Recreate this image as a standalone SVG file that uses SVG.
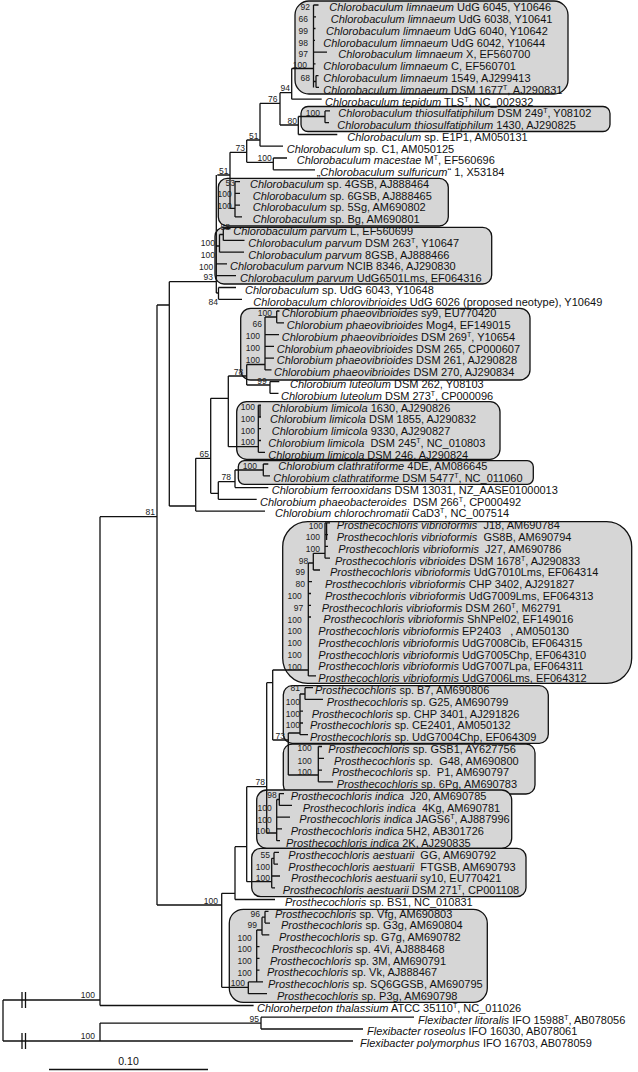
<svg xmlns="http://www.w3.org/2000/svg" width="638" height="1072" viewBox="0 0 638 1072">
<style>
.t{font-family:"Liberation Sans",Arial,Helvetica,sans-serif;font-size:11px;fill:#111}
.i{font-style:italic}
.s{font-size:7px}
.b{font-family:"Liberation Sans",Arial,Helvetica,sans-serif;font-size:8.5px;fill:#222;text-anchor:end}
.e{fill:none;stroke:#111;stroke-width:1.3}
.c{fill:#d6d6d6;stroke:#111;stroke-width:1.3}
</style>
<rect width="638" height="1072" fill="#fff"/>
<g id="clades">
<rect id="box-limnaeum" class="c" x="295" y="1" width="273" height="93" rx="14"/>
<rect id="box-thiosulfatiphilum" class="c" x="301" y="106.5" width="309" height="25" rx="7"/>
<rect id="box-chlorobaculum-sp" class="c" x="218.3" y="178.3" width="230" height="47.7" rx="9"/>
<rect id="box-parvum" class="c" x="215" y="227.3" width="276.7" height="56.7" rx="9"/>
<rect id="box-phaeovibrioides" class="c" x="240.7" y="308.3" width="289.3" height="71.7" rx="10"/>
<rect id="box-limicola" class="c" x="236.7" y="401.7" width="263.3" height="57.6" rx="10"/>
<rect id="box-clathratiforme" class="c" x="238.3" y="460.7" width="295" height="23.6" rx="6"/>
<rect id="box-vibrioformis" class="c" x="282.7" y="521.7" width="349" height="161.6" rx="25"/>
<rect id="box-b7" class="c" x="283.3" y="685.7" width="265" height="57.6" rx="9"/>
<rect id="box-gsb1" class="c" x="283.3" y="744" width="251.7" height="50" rx="9"/>
<rect id="box-indica" class="c" x="256.7" y="790" width="255" height="58.3" rx="10"/>
<rect id="box-aestuarii" class="c" x="251.7" y="848.3" width="274.3" height="48.4" rx="9"/>
<rect id="box-p3g" class="c" x="229.3" y="909.3" width="258" height="93" rx="14"/>
</g>
<g id="edges" class="e">
<path d="M313.5,5V87.4M313.5,5H318.5M313.5,16.8H316M313.5,28.5H315.5M313.5,40.3H315M313.5,52.1H327M313.5,63.9H315.5M313.5,81.5H316M316,75.6V87.4M316,75.6H318.5M316,87.4H319M291.7,68.5H313.5"/>
<path d="M291.7,68.5V99.2M291.7,99.2H321.7M280,92.7H291.7M280,92.7V125M260,103.3H280M280,125H298.3M298.3,116.5V134.5M298.3,134.5H337.3M298.3,116.5H325M325,110.9V122.7M325,110.9H330M325,122.7H329"/>
<path d="M260,103.3V146.2M260,146.2H283M246.7,140H260M246.7,140V162.3M246.7,162.3H273.3M273.3,158V169.8M273.3,158H287M273.3,169.8H315M230,152.3H246.7"/>
<path d="M230,152.3V208.3M217.3,175H230M230,208.3H235M235,181.6V216.9M235,181.6H240M235,193.3H240M235,205.1H240M235,216.9H242"/>
<path d="M216.3,175V293M216.3,275.7H236M216.3,263.9H227M216.3,246H219.5M219.5,234.5V252.2M219.5,252.2H244M219.5,234.5H223.3M223.3,228.6V240.4M223.3,228.6H230.5M223.3,240.4H244.5M169.3,281.7H216.3M216.3,293H218.5M218.5,287.5V299.3M218.5,287.5H236M218.5,299.3H242"/>
<path d="M169.3,281.7V506M169.3,506H195.7M157,305V905M157,305H169.3M100,516.7H157"/>
<path d="M195.7,458.3V511.1M195.7,511.1H265M195.7,458.3H210.7M210.7,398.3V493.3M210.7,398.3H228.3M210.7,493.3H218.3M228.3,376V446.7M228.3,376H246.7M228.3,446.7H258.3"/>
<path d="M246.7,364.5V385M246.7,364.5H265M246.7,385H270M265,317V369.9M265,317H276.7M276.7,311V322.8M276.7,311H279.5M276.7,322.8H284M265,334.6H279M265,346.3H274M265,358.1H274M265,369.9H271.5M270,381.6V393.4M270,381.6H279.3M270,393.4H278.5"/>
<path d="M258.3,405.2V452.3M260,405.2V417M258.3,405.2H261M258.3,417H261M258.3,428.7H261M258.3,440.5H261M258.3,452.3H265"/>
<path d="M218.3,481.7V499.3M218.3,499.3H256.7M218.3,481.7H235M235,470V487.6M235,487.6H268.3M235,470H263.3M263.3,464V475.8M263.3,464H268.3M263.3,475.8H270"/>
<path d="M157,905H221.7M221.7,893.3V987.3M221.7,893.3H235M235,846.7V899.5M235,899.5H275M235,846.7H246.7M246.7,786.7V881.7M246.7,786.7H266.7M246.7,881.7H271.7"/>
<path d="M271.7,858.3V887.8M271.7,876H280M271.7,887.8H275M271.7,858.3H274M274,852.4V864.2M274,852.4H279M274,864.2H278"/>
<path d="M266.7,682.7V833M266.7,682.7H272.7M266.7,833H276.7M276.7,799.5V840.7M276.7,799.5H279.3M279.3,793.6V805.4M279.3,793.6H284M279.3,805.4H292M276.7,817.1H290M276.7,828.9H282M276.7,840.7H280"/>
<path d="M272.7,670V740M272.7,670H308.3M272.7,740H288.3M308.3,563V675.9M308.3,563H313.3M313.3,553.3V570M313.3,570H320M313.3,553.3H325M325,522.9V558.2M326.6,522.9V540M325,522.9H330M325,534.7H328M325,546.4H328M325,558.2H330M308.3,581.7H312M308.3,593.5H311M308.3,605.3H311M308.3,617H311M308.3,675.9H316"/>
<path d="M288.3,733V775M288.3,733H300M288.3,775H318.3M300,694V734.7M300,694H305M305,687.7V699.4M305,687.7H313M305,699.4H323M300,711.2H303M300,723H303M300,734.7H308M318.3,746.5V781.8M318.3,746.5H322M318.3,758.3H324M318.3,770.1H322M318.3,781.8H333"/>
<path d="M221.7,987.3H248.3M248.3,981.9V993.7M248.3,993.7H267M248.3,981.9H256.7M256.7,930V981.9M256.7,981.9H263M256.7,946.6H259.5M256.7,958.4H259.5M256.7,970.1H259.5M256.7,930H262M262,917.2V934.8M262,934.8H269.3M262,917.2H265M265,911.3V923.1M265,911.3H268.5M265,923.1H270"/>
<path d="M100,516.7V1005.5M100,1005.5H253.6M3,1000H100M3,1000V1041M3,1041H353M100,1041V1023.1M100,1023.1H261M261,1017.2V1029M261,1017.2H414M261,1029H363"/>
<path d="M22,992V1008M25.5,992V1008M22,1033V1049M25.5,1033V1049"/>
</g>
<g id="support">
<text class="b" x="310" y="10.3">92</text>
<text class="b" x="308" y="22">66</text>
<text class="b" x="308" y="33.8">99</text>
<text class="b" x="308" y="45.5">98</text>
<text class="b" x="308" y="57.3">97</text>
<text class="b" x="307" y="68">100</text>
<text class="b" x="310" y="80.5">68</text>
<text class="b" x="290" y="91">94</text>
<text class="b" x="277.5" y="102">76</text>
<text class="b" x="297" y="123.5">80</text>
<text class="b" x="320" y="115.5">100</text>
<text class="b" x="258.5" y="138.5">51</text>
<text class="b" x="245" y="150.8">73</text>
<text class="b" x="271.7" y="161">100</text>
<text class="b" x="228.5" y="173.5">51</text>
<text class="b" x="235" y="185.5">53</text>
<text class="b" x="231.7" y="197">100</text>
<text class="b" x="231.7" y="209">100</text>
<text class="b" x="230" y="229.5">58</text>
<text class="b" x="215" y="245.5">100</text>
<text class="b" x="215" y="257.5">100</text>
<text class="b" x="213.3" y="269.5">100</text>
<text class="b" x="213" y="280">93</text>
<text class="b" x="218" y="304.5">84</text>
<text class="b" x="272" y="315.5">100</text>
<text class="b" x="262" y="327">66</text>
<text class="b" x="260" y="338.5">100</text>
<text class="b" x="260" y="350.5">100</text>
<text class="b" x="260" y="362.5">100</text>
<text class="b" x="243.3" y="374.5">78</text>
<text class="b" x="266.7" y="383.8">99</text>
<text class="b" x="255" y="410">100</text>
<text class="b" x="255" y="421.8">100</text>
<text class="b" x="255" y="433.5">100</text>
<text class="b" x="255" y="445.3">100</text>
<text class="b" x="209" y="456.5">65</text>
<text class="b" x="257" y="468.5">100</text>
<text class="b" x="231" y="480">78</text>
<text class="b" x="155" y="515">81</text>
<text class="b" x="323" y="528.5">100</text>
<text class="b" x="320" y="540">100</text>
<text class="b" x="320" y="551.5">100</text>
<text class="b" x="308.3" y="563.5">98</text>
<text class="b" x="305" y="575">99</text>
<text class="b" x="305" y="587">80</text>
<text class="b" x="301.7" y="599">100</text>
<text class="b" x="303.3" y="611">97</text>
<text class="b" x="301.7" y="622.5">100</text>
<text class="b" x="301.7" y="634">100</text>
<text class="b" x="301.7" y="646">100</text>
<text class="b" x="301.7" y="658">100</text>
<text class="b" x="301.7" y="669.5">100</text>
<text class="b" x="300" y="691">81</text>
<text class="b" x="300" y="704.5">100</text>
<text class="b" x="300" y="716.5">100</text>
<text class="b" x="300" y="728">100</text>
<text class="b" x="285" y="738.5">73</text>
<text class="b" x="311.7" y="751.3">100</text>
<text class="b" x="311.7" y="764">100</text>
<text class="b" x="311.7" y="774.5">100</text>
<text class="b" x="265" y="785">78</text>
<text class="b" x="276.7" y="798">98</text>
<text class="b" x="271.7" y="810.7">100</text>
<text class="b" x="271.7" y="823">100</text>
<text class="b" x="270" y="834">100</text>
<text class="b" x="270" y="858">55</text>
<text class="b" x="270" y="869.7">100</text>
<text class="b" x="270" y="880.5">100</text>
<text class="b" x="218" y="903.5">100</text>
<text class="b" x="260" y="917.3">96</text>
<text class="b" x="257" y="928.3">99</text>
<text class="b" x="251.7" y="941.3">100</text>
<text class="b" x="251.7" y="952.3">100</text>
<text class="b" x="251.7" y="964">100</text>
<text class="b" x="251.7" y="975.5">100</text>
<text class="b" x="245" y="986">100</text>
<text class="b" x="95" y="998">100</text>
<text class="b" x="259" y="1021.5">95</text>
<text class="b" x="95" y="1039">100</text>
</g>
<g id="n01"><text class="t" x="329.3" y="11.3"><tspan class="i">Chlorobaculum limnaeum</tspan> UdG 6045, Y10646</text></g>
<g id="n02"><text class="t" x="330.7" y="23.1"><tspan class="i">Chlorobaculum limnaeum</tspan> UdG 6038, Y10641</text></g>
<g id="n03"><text class="t" x="326" y="34.8"><tspan class="i">Chlorobaculum limnaeum</tspan> UdG 6040, Y10642</text></g>
<g id="n04"><text class="t" x="323.3" y="46.6"><tspan class="i">Chlorobaculum limnaeum</tspan> UdG 6042, Y10644</text></g>
<g id="n05"><text class="t" x="338.3" y="58.4"><tspan class="i">Chlorobaculum limnaeum</tspan> X, EF560700</text></g>
<g id="n06"><text class="t" x="323.3" y="70.2"><tspan class="i">Chlorobaculum limnaeum</tspan> C, EF560701</text></g>
<g id="n07"><text class="t" x="323.3" y="81.9"><tspan class="i">Chlorobaculum limnaeum</tspan> 1549, AJ299413</text></g>
<g id="n08"><text class="t" x="323.3" y="93.7"><tspan class="i">Chlorobaculum limnaeum</tspan> DSM 1677<tspan class="s" dy="-4">T</tspan><tspan dy="4">, AJ290831</tspan></text></g>
<g id="n09"><text class="t" x="325" y="105.5"><tspan class="i">Chlorobaculum tepidum</tspan> TLS<tspan class="s" dy="-4">T</tspan><tspan dy="4">, NC_002932</tspan></text></g>
<g id="n10"><text class="t" x="338.3" y="117.2"><tspan class="i">Chlorobaculum thiosulfatiphilum</tspan> DSM 249<tspan class="s" dy="-4">T</tspan><tspan dy="4">, Y08102</tspan></text></g>
<g id="n11"><text class="t" x="337.3" y="129"><tspan class="i">Chlorobaculum thiosulfatiphilum</tspan> 1430, AJ290825</text></g>
<g id="n12"><text class="t" x="347.3" y="140.8"><tspan class="i">Chlorobaculum</tspan> sp. E1P1, AM050131</text></g>
<g id="n13"><text class="t" x="286.7" y="152.5"><tspan class="i">Chlorobaculum</tspan> sp. C1, AM050125</text></g>
<g id="n14"><text class="t" x="296.7" y="164.3"><tspan class="i">Chlorobaculum macestae</tspan> M<tspan class="s" dy="-4">T</tspan><tspan dy="4">, EF560696</tspan></text></g>
<g id="n15"><text class="t" x="316.7" y="176.1">„<tspan class="i">Chlorobaculum sulfuricum</tspan>“ 1, X53184</text></g>
<g id="n16"><text class="t" x="250" y="187.9"><tspan class="i">Chlorobaculum</tspan> sp. 4GSB, AJ888464</text></g>
<g id="n17"><text class="t" x="252.7" y="199.6"><tspan class="i">Chlorobaculum</tspan> sp. 6GSB, AJ888465</text></g>
<g id="n18"><text class="t" x="252.7" y="211.4"><tspan class="i">Chlorobaculum</tspan> sp. 5Sg, AM690802</text></g>
<g id="n19"><text class="t" x="252.7" y="223.2"><tspan class="i">Chlorobaculum</tspan> sp. Bg, AM690801</text></g>
<g id="n20"><text class="t" x="233.3" y="234.9"><tspan class="i">Chlorobaculum parvum</tspan> L, EF560699</text></g>
<g id="n21"><text class="t" x="248.3" y="246.7"><tspan class="i">Chlorobaculum parvum</tspan> DSM 263<tspan class="s" dy="-4">T</tspan><tspan dy="4">, Y10647</tspan></text></g>
<g id="n22"><text class="t" x="248.3" y="258.5"><tspan class="i">Chlorobaculum parvum</tspan> 8GSB, AJ888466</text></g>
<g id="n23"><text class="t" x="230" y="270.2"><tspan class="i">Chlorobaculum parvum</tspan> NCIB 8346, AJ290830</text></g>
<g id="n24"><text class="t" x="240" y="282"><tspan class="i">Chlorobaculum parvum</tspan> UdG6501Lms, EF064316</text></g>
<g id="n25"><text class="t" x="245" y="293.8"><tspan class="i">Chlorobaculum</tspan> sp. UdG 6043, Y10648</text></g>
<g id="n26"><text class="t" x="253.3" y="305.6"><tspan class="i">Chlorobaculum chlorovibrioides</tspan> UdG 6026 (proposed neotype), Y10649</text></g>
<g id="n27"><text class="t" x="281.7" y="317.3"><tspan class="i">Chlorobium phaeovibrioides</tspan> sy9, EU770420</text></g>
<g id="n28"><text class="t" x="286.7" y="329.1"><tspan class="i">Chlorobium phaeovibrioides</tspan> Mog4, EF149015</text></g>
<g id="n29"><text class="t" x="281.7" y="340.9"><tspan class="i">Chlorobium phaeovibrioides</tspan> DSM 269<tspan class="s" dy="-4">T</tspan><tspan dy="4">, Y10654</tspan></text></g>
<g id="n30"><text class="t" x="276.7" y="352.6"><tspan class="i">Chlorobium phaeovibrioides</tspan> DSM 265, CP000607</text></g>
<g id="n31"><text class="t" x="276.7" y="364.4"><tspan class="i">Chlorobium phaeovibrioides</tspan> DSM 261, AJ290828</text></g>
<g id="n32"><text class="t" x="274" y="376.2"><tspan class="i">Chlorobium phaeovibrioides</tspan> DSM 270, AJ290834</text></g>
<g id="n33"><text class="t" x="290" y="387.9"><tspan class="i">Chlorobium luteolum</tspan> DSM 262, Y08103</text></g>
<g id="n34"><text class="t" x="281" y="399.7"><tspan class="i">Chlorobium luteolum</tspan> DSM 273<tspan class="s" dy="-4">T</tspan><tspan dy="4">, CP000096</tspan></text></g>
<g id="n35"><text class="t" x="271.7" y="411.5"><tspan class="i">Chlorobium limicola</tspan> 1630, AJ290826</text></g>
<g id="n36"><text class="t" x="270" y="423.3"><tspan class="i">Chlorobium limicola</tspan> DSM 1855, AJ290832</text></g>
<g id="n37"><text class="t" x="271.7" y="435"><tspan class="i">Chlorobium limicola</tspan> 9330, AJ290827</text></g>
<g id="n38"><text class="t" x="268.3" y="446.8" xml:space="preserve"><tspan class="i">Chlorobium limicola</tspan>  DSM 245<tspan class="s" dy="-4">T</tspan><tspan dy="4">, NC_010803</tspan></text></g>
<g id="n39"><text class="t" x="268.3" y="458.6"><tspan class="i">Chlorobium limicola</tspan> DSM 246, AJ290824</text></g>
<g id="n40"><text class="t" x="278.3" y="470.3"><tspan class="i">Chlorobium clathratiforme</tspan> 4DE, AM086645</text></g>
<g id="n41"><text class="t" x="273.3" y="482.1"><tspan class="i">Chlorobium clathratiforme</tspan> DSM 5477<tspan class="s" dy="-4">T</tspan><tspan dy="4">, NC_011060</tspan></text></g>
<g id="n42"><text class="t" x="271.7" y="493.9"><tspan class="i">Chlorobium ferrooxidans</tspan> DSM 13031, NZ_AASE01000013</text></g>
<g id="n43"><text class="t" x="260" y="505.6" xml:space="preserve"><tspan class="i">Chlorobium phaeobacteroides</tspan>  DSM 266<tspan class="s" dy="-4">T</tspan><tspan dy="4">, CP000492</tspan></text></g>
<g id="n44"><text class="t" x="275" y="517.4"><tspan class="i">Chlorobium chlorochromatii</tspan> CaD3<tspan class="s" dy="-4">T</tspan><tspan dy="4">, NC_007514</tspan></text></g>
<g id="n45"><text class="t" x="336.7" y="529.2" xml:space="preserve"><tspan class="i">Prosthecochloris vibrioformis</tspan>  J18, AM690784</text></g>
<g id="n46"><text class="t" x="336.7" y="541" xml:space="preserve"><tspan class="i">Prosthecochloris vibrioformis</tspan>  GS8B, AM690794</text></g>
<g id="n47"><text class="t" x="338.3" y="552.7" xml:space="preserve"><tspan class="i">Prosthecochloris vibrioformis</tspan>  J27, AM690786</text></g>
<g id="n48"><text class="t" x="335" y="564.5"><tspan class="i">Prosthecochloris vibrioides</tspan> DSM 1678<tspan class="s" dy="-4">T</tspan><tspan dy="4">, AJ290833</tspan></text></g>
<g id="n49"><text class="t" x="330" y="576.3"><tspan class="i">Prosthecochloris vibrioformis</tspan> UdG7010Lms, EF064314</text></g>
<g id="n50"><text class="t" x="325" y="588"><tspan class="i">Prosthecochloris vibrioformis</tspan> CHP 3402, AJ291827</text></g>
<g id="n51"><text class="t" x="325" y="599.8"><tspan class="i">Prosthecochloris vibrioformis</tspan> UdG7009Lms, EF064313</text></g>
<g id="n52"><text class="t" x="321.7" y="611.6"><tspan class="i">Prosthecochloris vibrioformis</tspan> DSM 260<tspan class="s" dy="-4">T</tspan><tspan dy="4">, M62791</tspan></text></g>
<g id="n53"><text class="t" x="323.3" y="623.3"><tspan class="i">Prosthecochloris vibrioformis</tspan> ShNPel02, EF149016</text></g>
<g id="n54"><text class="t" x="318.3" y="635.1" xml:space="preserve"><tspan class="i">Prosthecochloris vibrioformis</tspan> EP2403   , AM050130</text></g>
<g id="n55"><text class="t" x="318.3" y="646.9"><tspan class="i">Prosthecochloris vibrioformis</tspan> UdG7008Cib, EF064315</text></g>
<g id="n56"><text class="t" x="318.3" y="658.7"><tspan class="i">Prosthecochloris vibrioformis</tspan> UdG7005Chp, EF064310</text></g>
<g id="n57"><text class="t" x="318.3" y="670.4"><tspan class="i">Prosthecochloris vibrioformis</tspan> UdG7007Lpa, EF064311</text></g>
<g id="n58"><text class="t" x="318.3" y="682.2"><tspan class="i">Prosthecochloris vibrioformis</tspan> UdG7006Lms, EF064312</text></g>
<g id="n59"><text class="t" x="315" y="694"><tspan class="i">Prosthecochloris</tspan> sp. B7, AM690806</text></g>
<g id="n60"><text class="t" x="326.7" y="705.7"><tspan class="i">Prosthecochloris</tspan> sp. G25, AM690799</text></g>
<g id="n61"><text class="t" x="311.7" y="717.5"><tspan class="i">Prosthecochloris</tspan> sp. CHP 3401, AJ291826</text></g>
<g id="n62"><text class="t" x="310" y="729.3"><tspan class="i">Prosthecochloris</tspan> sp. CE2401, AM050132</text></g>
<g id="n63"><text class="t" x="310" y="741"><tspan class="i">Prosthecochloris</tspan> sp. UdG7004Chp, EF064309</text></g>
<g id="n64"><text class="t" x="328.3" y="752.8"><tspan class="i">Prosthecochloris</tspan> sp. GSB1, AY627756</text></g>
<g id="n65"><text class="t" x="334" y="764.6" xml:space="preserve"><tspan class="i">Prosthecochloris</tspan> sp.  G48, AM690800</text></g>
<g id="n66"><text class="t" x="331.7" y="776.4" xml:space="preserve"><tspan class="i">Prosthecochloris</tspan> sp.  P1, AM690797</text></g>
<g id="n67"><text class="t" x="336.7" y="788.1"><tspan class="i">Prosthecochloris</tspan> sp. 6Pg, AM690783</text></g>
<g id="n68"><text class="t" x="290.7" y="799.9" xml:space="preserve"><tspan class="i">Prosthecochloris indica</tspan>  J20, AM690785</text></g>
<g id="n69"><text class="t" x="302.7" y="811.7" xml:space="preserve"><tspan class="i">Prosthecochloris indica</tspan>  4Kg, AM690781</text></g>
<g id="n70"><text class="t" x="299.3" y="823.4"><tspan class="i">Prosthecochloris indica</tspan> JAGS6<tspan class="s" dy="-4">T</tspan><tspan dy="4">, AJ887996</tspan></text></g>
<g id="n71"><text class="t" x="290.7" y="835.2"><tspan class="i">Prosthecochloris indica</tspan> 5H2, AB301726</text></g>
<g id="n72"><text class="t" x="286" y="847"><tspan class="i">Prosthecochloris indica</tspan> 2K, AJ290835</text></g>
<g id="n73"><text class="t" x="288.3" y="858.7" xml:space="preserve"><tspan class="i">Prosthecochloris aestuarii</tspan>  GG, AM690792</text></g>
<g id="n74"><text class="t" x="288.3" y="870.5" xml:space="preserve"><tspan class="i">Prosthecochloris aestuarii</tspan>  FTGSB, AM690793</text></g>
<g id="n75"><text class="t" x="291" y="882.3"><tspan class="i">Prosthecochloris aestuarii</tspan> sy10, EU770421</text></g>
<g id="n76"><text class="t" x="282.7" y="894.1"><tspan class="i">Prosthecochloris aestuarii</tspan> DSM 271<tspan class="s" dy="-4">T</tspan><tspan dy="4">, CP001108</tspan></text></g>
<g id="n77"><text class="t" x="285" y="905.8"><tspan class="i">Prosthecochloris</tspan> sp. BS1, NC_010831</text></g>
<g id="n78"><text class="t" x="275" y="917.6"><tspan class="i">Prosthecochloris</tspan> sp. Vfg, AM690803</text></g>
<g id="n79"><text class="t" x="281" y="929.4"><tspan class="i">Prosthecochloris</tspan> sp. G3g, AM690804</text></g>
<g id="n80"><text class="t" x="279" y="941.1"><tspan class="i">Prosthecochloris</tspan> sp. G7g, AM690782</text></g>
<g id="n81"><text class="t" x="271.7" y="952.9"><tspan class="i">Prosthecochloris</tspan> sp. 4Vi, AJ888468</text></g>
<g id="n82"><text class="t" x="270" y="964.7"><tspan class="i">Prosthecochloris</tspan> sp. 3M, AM690791</text></g>
<g id="n83"><text class="t" x="267" y="976.4"><tspan class="i">Prosthecochloris</tspan> sp. Vk, AJ888467</text></g>
<g id="n84"><text class="t" x="268" y="988.2"><tspan class="i">Prosthecochloris</tspan> sp. SQ6GGSB, AM690795</text></g>
<g id="n85"><text class="t" x="277" y="1000"><tspan class="i">Prosthecochloris</tspan> sp. P3g, AM690798</text></g>
<g id="n86"><text class="t" x="257" y="1011.8"><tspan class="i">Chloroherpeton thalassium</tspan> ATCC 35110<tspan class="s" dy="-4">T</tspan><tspan dy="4">, NC_011026</tspan></text></g>
<g id="n87"><text class="t" x="418" y="1023.5"><tspan class="i">Flexibacter litoralis</tspan> IFO 15988<tspan class="s" dy="-4">T</tspan><tspan dy="4">, AB078056</tspan></text></g>
<g id="n88"><text class="t" x="367" y="1035.3"><tspan class="i">Flexibacter roseolus</tspan> IFO 16030, AB078061</text></g>
<g id="n89"><text class="t" x="360" y="1047.1"><tspan class="i">Flexibacter polymorphus</tspan> IFO 16703, AB078059</text></g>
<g id="scale">
<path class="e" d="M49,1069.5H208"/>
<text class="t" x="128.5" y="1065" text-anchor="middle" style="font-size:10.5px">0.10</text>
</g>
</svg>
